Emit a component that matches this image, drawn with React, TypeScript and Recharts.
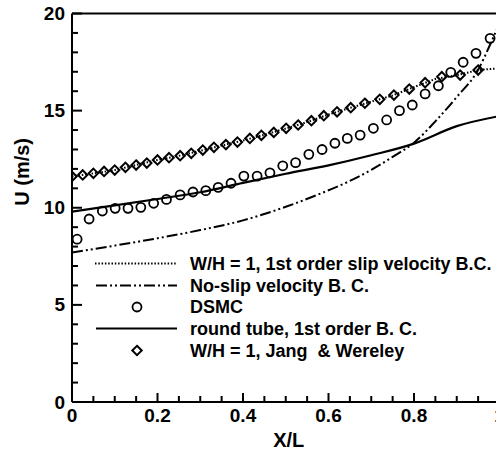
import React from 'react';
import {
  ComposedChart, Line, Scatter, XAxis, YAxis, ReferenceLine,
} from 'recharts';

// W/H = 1, 1st order slip velocity B.C. (dotted)
const slipX = [0, 0.05, 0.1, 0.15, 0.2, 0.25, 0.3, 0.35, 0.4, 0.45, 0.5, 0.55, 0.6, 0.65, 0.7, 0.75, 0.8, 0.85, 0.9, 0.95, 1.0];
const slipU = [11.61, 11.77, 11.94, 12.2, 12.46, 12.67, 12.93, 13.2, 13.46, 13.76, 14.08, 14.41, 14.8, 15.14, 15.46, 15.78, 16.21, 16.63, 16.82, 17.09, 17.18];

// No-slip velocity B. C. (dash-dot-dot)
const noSlipX = [0, 0.1, 0.2, 0.3, 0.4, 0.5, 0.6, 0.65, 0.7, 0.75, 0.8, 0.85, 0.9, 0.95, 0.975, 1.0];
const noSlipU = [7.7, 8.05, 8.43, 8.85, 9.35, 10.05, 10.9, 11.38, 11.95, 12.62, 13.35, 14.45, 15.7, 17.1, 18.25, 19.5];

// DSMC (circles)
const dsmcX = [0.012, 0.04, 0.071, 0.101, 0.131, 0.161, 0.191, 0.221, 0.253, 0.283, 0.313, 0.342, 0.372, 0.402, 0.433, 0.463, 0.493, 0.523, 0.554, 0.585, 0.615, 0.644, 0.674, 0.705, 0.736, 0.766, 0.796, 0.826, 0.857, 0.886, 0.915, 0.945, 0.978];
const dsmcU = [8.38, 9.42, 9.83, 9.97, 9.97, 10.02, 10.23, 10.43, 10.66, 10.81, 10.88, 11.05, 11.26, 11.63, 11.63, 11.8, 12.16, 12.32, 12.75, 13.0, 13.32, 13.57, 13.74, 14.09, 14.52, 15.0, 15.29, 15.86, 16.28, 16.97, 17.49, 17.95, 18.72];

// round tube, 1st order B. C. (solid)
const tubeX = [0, 0.1, 0.2, 0.3, 0.4, 0.5, 0.6, 0.7, 0.8, 0.9, 1.0];
const tubeU = [9.8, 10.12, 10.45, 10.8, 11.28, 11.75, 12.18, 12.7, 13.3, 14.2, 14.72];

// W/H = 1, Jang & Wereley (diamonds)
const jangX = [0, 0.025, 0.05, 0.075, 0.1, 0.125, 0.15, 0.175, 0.2, 0.227, 0.253, 0.279, 0.306, 0.332, 0.36, 0.387, 0.416, 0.443, 0.472, 0.501, 0.529, 0.56, 0.589, 0.62, 0.652, 0.685, 0.72, 0.753, 0.789, 0.826, 0.865, 0.908, 0.95];
const jangU = [11.61, 11.69, 11.77, 11.87, 11.94, 12.08, 12.2, 12.3, 12.46, 12.58, 12.68, 12.8, 12.97, 13.11, 13.25, 13.38, 13.57, 13.73, 13.88, 14.09, 14.26, 14.48, 14.74, 14.94, 15.15, 15.38, 15.58, 15.8, 16.11, 16.44, 16.75, 16.83, 17.09];

// ticks (major get labels)
const xTicks = [0, 0.05, 0.1, 0.15, 0.2, 0.25, 0.3, 0.35, 0.4, 0.45, 0.5, 0.55, 0.6, 0.65, 0.7, 0.75, 0.8, 0.85, 0.9, 0.95, 1];
const xMajor = [0, 0.2, 0.4, 0.6, 0.8, 1];
const yTicks = [0, 1, 2, 3, 4, 5, 6, 7, 8, 9, 10, 11, 12, 13, 14, 15, 16, 17, 18, 19, 20];
const yMajor = [0, 5, 10, 15, 20];

const legendLabels = [
  'W/H = 1, 1st order slip velocity B.C.',
  'No-slip velocity B. C.',
  'DSMC',
  'round tube, 1st order B. C.',
  'W/H = 1, Jang  & Wereley',
];

const pts = (xs: number[], us: number[]) => xs.map((x, i) => ({ x, u: us[i] }));

const FONT = '"Liberation Sans", Arial, Helvetica, sans-serif';
const DASHDOT = '11 3 2 3 2 3';
const DOTTED = '1.5 1.8';

const XTick = (props: any) => {
  const { x, y, payload } = props;
  const major = xMajor.some(m => Math.abs(m - payload.value) < 1e-9);
  return (
    <g>
      <line x1={x} x2={x} y1={y} y2={y - (major ? 9 : 6)} stroke="#000" strokeWidth={2} />
      {major && (
        <text x={x} y={y + 13} textAnchor="middle" dominantBaseline="central"
          fontFamily={FONT} fontWeight="bold" fontSize={19} fill="#000">
          {String(payload.value)}
        </text>
      )}
    </g>
  );
};

const YTick = (props: any) => {
  const { x, y, payload } = props;
  const major = yMajor.includes(payload.value);
  return (
    <g>
      <line x1={x} x2={x + (major ? 10 : 6)} y1={y} y2={y} stroke="#000" strokeWidth={2} />
      {major && (
        <text x={x - 7} y={y} textAnchor="end" dominantBaseline="central"
          fontFamily={FONT} fontWeight="bold" fontSize={19} fill="#000">
          {payload.value}
        </text>
      )}
    </g>
  );
};

const CircleShape = (props: any) => (
  <circle cx={props.cx} cy={props.cy} r={4.5} fill="none" stroke="#000" strokeWidth={1.8} />
);

const DiamondShape = (props: any) => {
  const { cx, cy } = props;
  return (
    <path d={`M${cx},${cy - 4.7}L${cx + 4.7},${cy}L${cx},${cy + 4.7}L${cx - 4.7},${cy}Z`}
      fill="none" stroke="#000" strokeWidth={2} />
  );
};

function LegendBox() {
  const rows = [263.5, 285.5, 307, 328.5, 350.5];
  return (
    <svg width={496} height={451} style={{ position: 'absolute', left: 0, top: 0, pointerEvents: 'none' }}>
      <line x1={95} x2={177} y1={rows[0]} y2={rows[0]} stroke="#000" strokeWidth={2} strokeDasharray={DOTTED} />
      <line x1={96} x2={177} y1={rows[1]} y2={rows[1]} stroke="#000" strokeWidth={2} strokeDasharray={DASHDOT} />
      <CircleShape cx={137} cy={rows[2]} />
      <line x1={96} x2={177} y1={rows[3]} y2={rows[3]} stroke="#000" strokeWidth={2.2} />
      <DiamondShape cx={137} cy={rows[4]} />
      {legendLabels.map((t, i) => (
        <text key={t} x={190} y={rows[i]} dominantBaseline="central" fontFamily={FONT}
          fontWeight="bold" fontSize={18} fill="#000" style={{ whiteSpace: 'pre' }}>
          {t}
        </text>
      ))}
    </svg>
  );
}

export default function App() {
  return (
    <div style={{ position: 'absolute', left: 0, top: 0, width: 496, height: 451, overflow: 'hidden', background: '#fff' }}>
      <ComposedChart width={510} height={451} margin={{ top: 13.5, right: 10.5, left: 12, bottom: 0 }}>
        <XAxis dataKey="x" type="number" domain={[0, 1]} ticks={xTicks} interval={0}
          tick={<XTick />} tickLine={false} tickSize={0} tickMargin={0} height={49}
          axisLine={{ stroke: '#000', strokeWidth: 2 }} allowDataOverflow
          label={{ value: 'X/L', position: 'insideBottom', offset: 4, dx: 3, fill: '#000', fontFamily: FONT, fontWeight: 'bold', fontSize: 20 }} />
        <YAxis dataKey="u" type="number" domain={[0, 20]} ticks={yTicks} interval={0}
          tick={<YTick />} tickLine={false} tickSize={0} tickMargin={0} width={60}
          axisLine={{ stroke: '#000', strokeWidth: 2 }} allowDataOverflow
          label={{ value: 'U (m/s)', angle: -90, position: 'insideLeft', offset: 0, dx: 10, dy: -2, fill: '#000', fontFamily: FONT, fontWeight: 'bold', fontSize: 20 }} />
        <ReferenceLine y={20} stroke="#000" strokeWidth={2} />
        <ReferenceLine x={1} stroke="#000" strokeWidth={2} />
        <Line data={pts(slipX, slipU)} dataKey="u" type="linear" stroke="#000" strokeWidth={2}
          strokeDasharray={DOTTED} dot={false} isAnimationActive={false} />
        <Line data={pts(noSlipX, noSlipU)} dataKey="u" type="monotone" stroke="#000" strokeWidth={2}
          strokeDasharray={DASHDOT} dot={false} isAnimationActive={false} />
        <Line data={pts(tubeX, tubeU)} dataKey="u" type="monotone" stroke="#000" strokeWidth={2.2}
          dot={false} isAnimationActive={false} />
        <Scatter data={pts(dsmcX, dsmcU)} dataKey="u" shape={<CircleShape />} isAnimationActive={false} />
        <Scatter data={pts(jangX, jangU)} dataKey="u" shape={<DiamondShape />} isAnimationActive={false} />
      </ComposedChart>
      <LegendBox />
    </div>
  );
}
